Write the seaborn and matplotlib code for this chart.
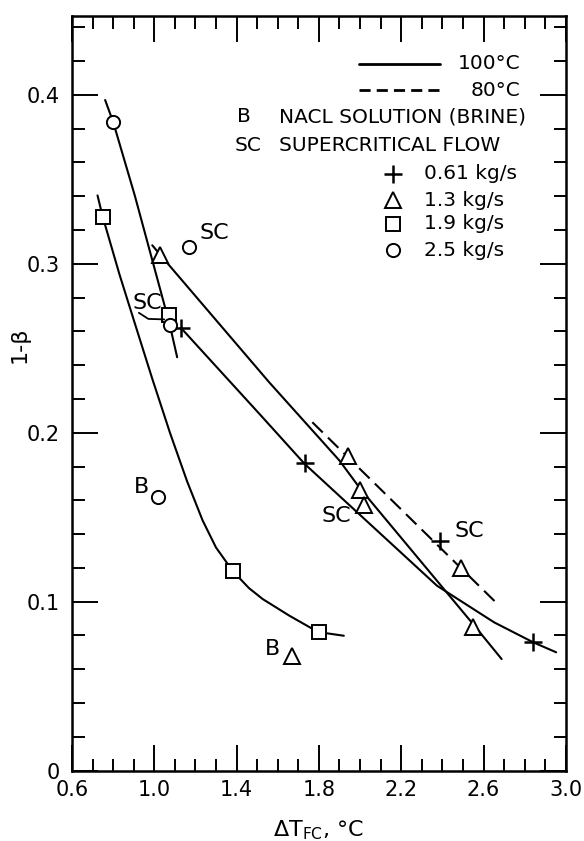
import numpy as np
import pandas as pd
import matplotlib
matplotlib.use("Agg")
import matplotlib.pyplot as plt
import seaborn as sns
from matplotlib.ticker import MultipleLocator, FixedLocator, FixedFormatter

sns.set_theme(style="white")
plt.rcParams['font.family'] = ['DejaVu Sans']
plt.rcParams['mathtext.default'] = 'regular'
plt.rcParams['text.color'] = 'black'
plt.rcParams['axes.labelcolor'] = 'black'
plt.rcParams['xtick.color'] = 'black'
plt.rcParams['ytick.color'] = 'black'

# ---------------- data ----------------
# measured points, by flow rate
plus_x = [1.13, 1.73, 2.39, 2.84]            # 0.61 kg/s
plus_y = [0.262, 0.182, 0.136, 0.076]
tri_x = [1.03, 1.94, 2.00, 2.02, 2.49, 2.55, 1.67]   # 1.3 kg/s (last: brine)
tri_y = [0.305, 0.186, 0.166, 0.157, 0.120, 0.085, 0.068]
sq_x = [0.75, 1.07, 1.38, 1.80]              # 1.9 kg/s
sq_y = [0.328, 0.270, 0.118, 0.082]
circ_x = [0.80, 1.075, 1.17, 1.02]           # 2.5 kg/s (last: brine)
circ_y = [0.384, 0.264, 0.310, 0.162]

# fitted curves
c061_x = [1.13, 1.512, 1.731, 1.985, 2.374, 2.652, 2.84, 2.953]
c061_y = [0.262, 0.211, 0.1815, 0.153, 0.1094, 0.0877, 0.076, 0.070]
c13_x = [0.99, 1.034, 1.558, 1.90, 2.00, 2.556, 2.688]
c13_y = [0.311, 0.3046, 0.2299, 0.1835, 0.167, 0.0857, 0.066]
c19_x = [0.724, 0.749, 0.83, 0.915, 0.99, 1.076, 1.16, 1.235, 1.30, 1.382, 1.46, 1.527, 1.656, 1.796, 1.921]
c19_y = [0.3405, 0.328, 0.294, 0.261, 0.232, 0.200, 0.171, 0.148, 0.132, 0.118, 0.108, 0.1015, 0.0917, 0.082, 0.0798]
c25_x = [0.761, 0.80, 0.905, 1.075, 1.111]
c25_y = [0.397, 0.384, 0.3405, 0.264, 0.2447]
c80_x = [1.768, 2.668]
c80_y = [0.2062, 0.0986]

# annotation labels (text, x, y)
annot_text = ["SC", "SC", "SC", "SC", "B", "B"]
annot_x = [1.222, 0.893, 1.811, 2.461, 0.900, 1.539]
annot_y = [0.318, 0.277, 0.1505, 0.1416, 0.1677, 0.0719]

xtick_vals = [0.6, 1.0, 1.4, 1.8, 2.2, 2.6, 3.0]
xtick_labels = ["0.6", "1.0", "1.4", "1.8", "2.2", "2.6", "3.0"]
ytick_vals = [0.0, 0.1, 0.2, 0.3, 0.4]
ytick_labels = ["0", "0.1", "0.2", "0.3", "0.4"]

legend_flow = ["0.61 kg/s", "1.3 kg/s", "1.9 kg/s", "2.5 kg/s"]
legend_temp = ["100°C", "80°C"]

# ---------------- figure ----------------
fig = plt.figure(figsize=(5.84, 8.41), dpi=100)
ax = fig.add_axes([0.1233, 0.0838, 0.8456, 0.8977])
ax.set_facecolor("white")

LW = 1.5
K = "black"

def curve(xs, ys, **kw):
    sns.lineplot(x=xs, y=ys, ax=ax, color=K, linewidth=LW, sort=False,
                 estimator=None, **kw)

curve(c061_x, c061_y)
curve(c13_x, c13_y)
curve(c19_x, c19_y)
curve(c25_x, c25_y)
curve(c80_x, c80_y, dashes=False, linestyle=(0, (7, 3.5)))

def marks(xs, ys, m, ms, mew=1.4):
    sns.lineplot(x=xs, y=ys, ax=ax, linestyle="", marker=m, markersize=ms,
                 markerfacecolor="white", markeredgecolor=K,
                 markeredgewidth=mew, color=K, sort=False, estimator=None)

marks(plus_x, plus_y, "+", 13, 1.8)
marks(tri_x, tri_y, "^", 11)
marks(sq_x, sq_y, "s", 9.5)
marks(circ_x, circ_y, "o", 9.5)

# small hook connecting the SC label to its square point
ax.plot([0.925, 0.971, 1.048], [0.271, 0.2674, 0.2671], color=K, lw=1.3)

for t, xx, yy in zip(annot_text, annot_x, annot_y):
    ax.text(xx, yy, t, fontsize=16, ha="left", va="center", color=K)

# ---------------- legend block ----------------
LFS = 14.5
ax.plot([1.996, 2.387], [0.4186, 0.4186], color=K, lw=2.0)
ax.plot([1.996, 2.387], [0.4028, 0.4028], color=K, lw=2.0, linestyle=(0, (4, 2.2)))
ax.text(2.78, 0.4186, legend_temp[0], fontsize=LFS, ha="right", va="center")
ax.text(2.78, 0.4028, legend_temp[1], fontsize=LFS, ha="right", va="center")
ax.text(1.402, 0.3870, "B", fontsize=LFS, ha="left", va="center")
ax.text(1.605, 0.3870, "NACL SOLUTION (BRINE)", fontsize=LFS, ha="left", va="center")
ax.text(1.392, 0.3702, "SC", fontsize=LFS, ha="left", va="center")
ax.text(1.605, 0.3702, "SUPERCRITICAL FLOW", fontsize=LFS, ha="left", va="center")
leg_y = [0.3534, 0.3376, 0.3237, 0.3080]
leg_m = [("+", 13, 1.8), ("^", 11, 1.4), ("s", 9.5, 1.4), ("o", 9.5, 1.4)]
for (m, ms, mew), yy, lab in zip(leg_m, leg_y, legend_flow):
    ax.plot([2.16], [yy], linestyle="", marker=m, markersize=ms,
            markerfacecolor="white", markeredgecolor=K, markeredgewidth=mew)
    ax.text(2.31, yy, lab, fontsize=LFS, ha="left", va="center")

# ---------------- axes ----------------
ax.set_xlim(0.6, 3.0)
ax.set_ylim(0.0, 0.447)
ax.xaxis.set_major_locator(FixedLocator(xtick_vals))
ax.xaxis.set_major_formatter(FixedFormatter(xtick_labels))
ax.xaxis.set_minor_locator(MultipleLocator(0.1))
ax.yaxis.set_major_locator(FixedLocator(ytick_vals))
ax.yaxis.set_major_formatter(FixedFormatter(ytick_labels))
ax.yaxis.set_minor_locator(MultipleLocator(0.02))
ax.tick_params(which="both", direction="in", top=True, right=True,
               bottom=True, left=True, colors=K, width=1.4)
ax.tick_params(which="major", length=19, labelsize=15)
ax.tick_params(axis="x", which="major", pad=7)
ax.tick_params(axis="y", which="major", pad=9)
ax.tick_params(which="minor", length=9)
for s in ax.spines.values():
    s.set_color(K)
    s.set_linewidth(1.8)
    s.set_visible(True)
ax.grid(False)

ax.set_xlabel(r"$\Delta T_{FC}$, °C", fontsize=16, color=K)
ax.xaxis.set_label_coords(0.5, -0.063)
ax.set_ylabel("1-β", fontsize=16, color=K)
ax.yaxis.set_label_coords(-0.085, 0.564)

fig.savefig("out.png", dpi=100, facecolor="white")
